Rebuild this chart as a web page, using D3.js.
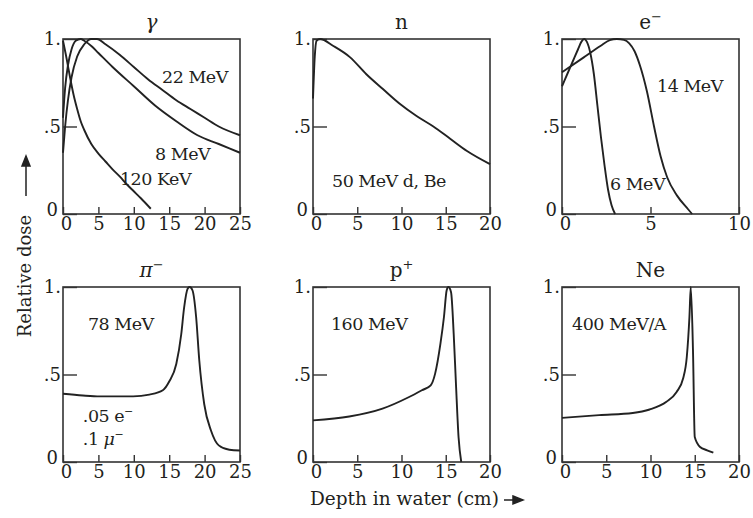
<!DOCTYPE html>
<html>
<head>
<meta charset="utf-8">
<script src="https://cdn.jsdelivr.net/npm/d3@7"></script>
<style>
  body { margin: 0; background: #fff; }
  svg text { font-family: "DejaVu Serif", "Liberation Serif", serif; fill: #231f20; }
  .tick line { stroke: #333; stroke-width: 1.4; }
  .tick text { font-size: 18px; }
  .domain { display: none; }
</style>
</head>
<body>
<div id="chart-area"></div>
<script>
// depth (cm), relative dose
var gamma22MeV = [[0, 0.35], [0.3, 0.5], [0.7, 0.65], [1.2, 0.78], [2, 0.9], [3, 0.97], [4, 1.0], [4.8, 1.0], [6, 0.97], [8, 0.91], [10, 0.84], [12, 0.77], [14, 0.71], [16, 0.65], [18, 0.6], [20, 0.55], [22, 0.5], [25, 0.45]];
var gamma8MeV = [[0, 0.55], [0.3, 0.72], [0.7, 0.85], [1.2, 0.94], [1.8, 0.99], [2.5, 1.0], [3, 0.99], [4, 0.96], [5, 0.92], [7, 0.84], [10, 0.73], [13, 0.62], [16, 0.53], [19, 0.45], [22, 0.4], [25, 0.35]];
var gamma120keV = [[0, 0.99], [0.5, 0.89], [1, 0.78], [1.5, 0.68], [2, 0.6], [2.5, 0.53], [3, 0.48], [4, 0.4], [5, 0.345], [6, 0.3], [7, 0.255], [8, 0.215], [9, 0.17], [10, 0.13], [11, 0.09], [12.4, 0.03]];
var neutron50MeV = [[0, 0.66], [0.2, 0.9], [0.4, 0.99], [0.8, 1.0], [2.3, 0.96], [4.2, 0.895], [6, 0.8], [7.9, 0.714], [9.8, 0.63], [11.7, 0.56], [13.6, 0.5], [15.5, 0.43], [17.4, 0.36], [20, 0.285]];
var electron6MeV = [[0, 0.73], [0.3, 0.8], [0.6, 0.87], [0.9, 0.94], [1.1, 0.985], [1.25, 1.0], [1.4, 0.985], [1.6, 0.92], [1.8, 0.8], [2.0, 0.62], [2.2, 0.44], [2.4, 0.28], [2.6, 0.14], [2.8, 0.05], [3.0, 0]];
var electron14MeV = [[0, 0.81], [1.23, 0.895], [2.17, 0.96], [2.7, 0.993], [3.1, 1.0], [3.5, 0.995], [3.8, 0.975], [4.1, 0.93], [4.4, 0.85], [4.8, 0.7], [5.2, 0.5], [5.57, 0.33], [5.94, 0.21], [6.5, 0.105], [7.1, 0.03], [7.35, 0]];
var pion78MeV = [[0, 0.39], [2.8, 0.38], [5.2, 0.375], [9.9, 0.375], [12.2, 0.385], [14.1, 0.41], [15, 0.46], [16, 0.56], [16.7, 0.73], [17.1, 0.88], [17.6, 0.99], [17.9, 1.0], [18.3, 0.98], [18.8, 0.83], [19.25, 0.58], [19.95, 0.33], [20.9, 0.18], [22, 0.095], [23.5, 0.07], [25, 0.066]];
var proton160MeV = [[0, 0.238], [4.1, 0.26], [7.85, 0.305], [10.8, 0.37], [12.3, 0.41], [13.3, 0.438], [13.8, 0.505], [14.4, 0.676], [14.8, 0.83], [15.1, 0.98], [15.3, 1.0], [15.6, 0.97], [15.9, 0.73], [16.15, 0.45], [16.45, 0.14], [16.75, 0]];
var neon400MeV = [[0, 0.252], [4.2, 0.268], [8, 0.28], [9.9, 0.3], [11.8, 0.344], [12.95, 0.4], [13.7, 0.48], [14.1, 0.6], [14.4, 0.83], [14.55, 1.0], [14.8, 0.64], [15.0, 0.143], [15.6, 0.086], [16.4, 0.067], [17.1, 0.053]];

var yTicks = [0, 0.5, 1];
var yTickLabels = ["0", ".5", "1."];
var xTicks25 = [0, 5, 10, 15, 20, 25];
var xTicks20 = [0, 5, 10, 15, 20];
var xTicks10 = [0, 5, 10];

var panels = [
  { title: "γ", italic: true, xMax: 25, ticks: xTicks25, col: 0, row: 0,
    series: [gamma22MeV, gamma8MeV, gamma120keV],
    labels: [{ t: "22 MeV", x: 14, y: 0.75 }, { t: "8 MeV", x: 13, y: 0.31 }, { t: "120 KeV", x: 8.05, y: 0.166 }] },
  { title: "n", xMax: 20, ticks: xTicks20, col: 1, row: 0,
    series: [neutron50MeV],
    labels: [{ t: "50 MeV d, Be", x: 2.15, y: 0.154 }] },
  { title: "e", sup: "−", xMax: 10, ticks: xTicks10, col: 2, row: 0,
    series: [electron6MeV, electron14MeV],
    labels: [{ t: "14 MeV", x: 5.37, y: 0.70 }, { t: "6 MeV", x: 2.71, y: 0.137 }] },
  { title: "π", italic: true, sup: "−", xMax: 25, ticks: xTicks25, col: 0, row: 1,
    series: [pion78MeV],
    labels: [{ t: "78 MeV", x: 3.53, y: 0.754 }, { t: ".05 e", sup: "−", x: 2.8, y: 0.23 }, { t: ".1 ", greek: "μ", sup: "−", x: 2.8, y: 0.097 }] },
  { title: "p", sup: "+", xMax: 20, ticks: xTicks20, col: 1, row: 1,
    series: [proton160MeV],
    labels: [{ t: "160 MeV", x: 2.03, y: 0.754 }] },
  { title: "Ne", xMax: 20, ticks: xTicks20, col: 2, row: 1,
    series: [neon400MeV],
    labels: [{ t: "400 MeV/A", x: 1.13, y: 0.754 }] }
];

var colX = [63, 313, 562];
var rowY = [39, 287];
var width = 177;
var height = 175;

var svg = d3.select("#chart-area")
    .append("svg")
    .attr("width", 753)
    .attr("height", 518);

var y = d3.scaleLinear().domain([0, 1]).range([height, 0]);

panels.forEach(function (p) {
    var g = svg.append("g")
        .attr("transform", "translate(" + colX[p.col] + "," + rowY[p.row] + ")");

    var x = d3.scaleLinear().domain([0, p.xMax]).range([0, width]);

    var xAxisGroup = g.append("g")
        .attr("transform", "translate(0," + height + ")")
        .call(d3.axisBottom(x).tickValues(p.ticks).tickSizeInner(-7).tickSizeOuter(0).tickPadding(3));

    var yAxisGroup = g.append("g")
        .call(d3.axisLeft(y).tickValues(yTicks).tickFormat(function (d, i) { return yTickLabels[i]; })
            .tickSizeInner(-14).tickSizeOuter(0).tickPadding(2));

    g.selectAll(".tick text").attr("fill", "#231f20");

    // keep the two corner zeros apart
    xAxisGroup.selectAll(".tick text").filter(function (d) { return d === 0; }).attr("dx", 3);
    yAxisGroup.selectAll(".tick text").filter(function (d) { return d === 0; })
        .attr("x", -5).attr("dy", "0.1em");

    g.append("rect")
        .attr("width", width)
        .attr("height", height)
        .attr("fill", "none")
        .attr("stroke", "#333")
        .attr("stroke-width", 1.6);

    var line = d3.line()
        .x(function (d) { return x(d[0]); })
        .y(function (d) { return y(d[1]); })
        .curve(d3.curveMonotoneX);

    p.series.forEach(function (s) {
        g.append("path")
            .datum(s)
            .attr("d", line)
            .attr("fill", "none")
            .attr("stroke", "#222")
            .attr("stroke-width", 1.9);
    });

    var title = g.append("text")
        .attr("x", width / 2)
        .attr("y", -10)
        .attr("text-anchor", "middle")
        .attr("font-size", 20);
    title.append("tspan").text(p.title).attr("font-style", p.italic ? "italic" : null);
    if (p.sup) title.append("tspan").text(p.sup).attr("dy", -8).attr("font-size", 13);

    p.labels.forEach(function (l) {
        var t = g.append("text")
            .attr("x", x(l.x))
            .attr("y", y(l.y))
            .attr("font-size", 17.5)
            .attr("letter-spacing", -0.5);
        t.append("tspan").text(l.t);
        if (l.greek) t.append("tspan").text(l.greek).attr("font-style", "italic");
        if (l.sup) t.append("tspan").text(l.sup).attr("dy", -7).attr("font-size", 11);
    });
});

// axis titles
svg.append("text")
    .attr("transform", "translate(31,276) rotate(-90)")
    .attr("text-anchor", "middle")
    .attr("font-size", 18)
    .text("Relative dose");

svg.append("path")
    .attr("d", "M26,196 V160 M22,166 L26,156 L30,166 Z")
    .attr("stroke", "#222")
    .attr("stroke-width", 1.5)
    .attr("fill", "#222");

svg.append("text")
    .attr("x", 310)
    .attr("y", 505)
    .attr("font-size", 18.5)
    .text("Depth in water (cm)");

svg.append("path")
    .attr("d", "M504,500 H517 M513,496 L523,500 L513,504 Z")
    .attr("stroke", "#222")
    .attr("stroke-width", 1.5)
    .attr("fill", "#222");
</script>
</body>
</html>
